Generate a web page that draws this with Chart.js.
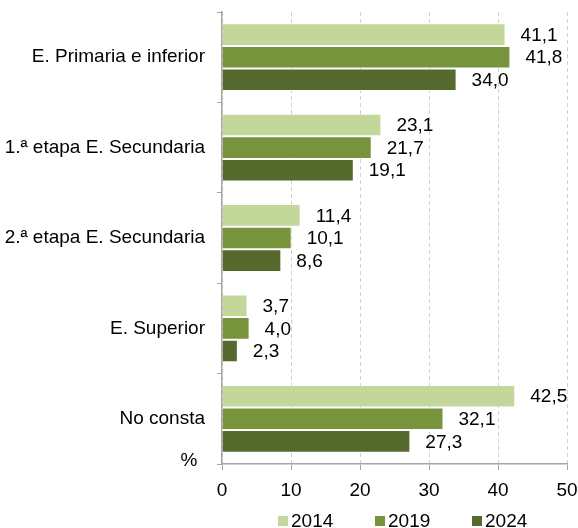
<!DOCTYPE html>
<html>
<head>
<meta charset="utf-8">
<script src="https://cdn.jsdelivr.net/npm/chart.js@4"></script>
<style>
  html, body { margin: 0; padding: 0; background: #fff; overflow: hidden; }
  #wrap { width: 578px; height: 528px; }
</style>
</head>
<body>
<div id="wrap"><canvas id="barChart"></canvas></div>
<script>
const categories = ['E. Primaria e inferior', '1.ª etapa E. Secundaria', '2.ª etapa E. Secundaria', 'E. Superior', 'No consta'];
const years = ['2014', '2019', '2024'];
const values2014 = [41.1, 23.1, 11.4, 3.7, 42.5];
const values2019 = [41.8, 21.7, 10.1, 4.0, 32.1];
const values2024 = [34.0, 19.1, 8.6, 2.3, 27.3];
const xTicks = [0, 10, 20, 30, 40, 50];
const colors = ['#c4d79b', '#77933c', '#566a2e'];

const FONT = '"Liberation Sans", Arial, sans-serif';
Chart.defaults.font.family = FONT;
Chart.defaults.font.size = 19;
Chart.defaults.color = '#000';

// value next to each bar, decimal comma
const valueLabels = {
  id: 'valueLabels',
  afterDatasetsDraw(chart) {
    const ctx = chart.ctx;
    ctx.save();
    ctx.font = '19px ' + FONT;
    ctx.fillStyle = '#000';
    ctx.textAlign = 'left';
    ctx.textBaseline = 'middle';
    chart.data.datasets.forEach((ds, i) => {
      chart.getDatasetMeta(i).data.forEach((bar, j) => {
        ctx.fillText(ds.data[j].toFixed(1).replace('.', ','), bar.x + 15, bar.y + 1);
      });
    });
    ctx.restore();
  }
};

// "%" unit and legend under the axis
const extras = {
  id: 'extras',
  afterDraw(chart) {
    const ctx = chart.ctx;
    const area = chart.chartArea;
    ctx.save();
    ctx.font = '19px ' + FONT;
    ctx.fillStyle = '#000';
    ctx.textAlign = 'center';
    ctx.textBaseline = 'middle';
    ctx.fillText('%', area.left - 33, area.bottom - 3);

    ctx.textAlign = 'left';
    chart.data.datasets.forEach((ds, i) => {
      const x = area.left + 56 + i * 97;
      const y = 521;
      ctx.fillStyle = ds.backgroundColor;
      ctx.fillRect(x, y - 5, 10, 10);
      ctx.fillStyle = '#000';
      ctx.fillText(ds.label, x + 13, y + 1);
    });
    ctx.restore();
  }
};

const barStyle = { borderWidth: 1, borderColor: 'rgba(255,255,255,0.45)' };

new Chart(document.getElementById('barChart').getContext('2d'), {
  type: 'bar',
  data: {
    labels: categories,
    datasets: [
      { label: years[0], data: values2014, backgroundColor: colors[0], ...barStyle },
      { label: years[1], data: values2019, backgroundColor: colors[1], ...barStyle },
      { label: years[2], data: values2024, backgroundColor: colors[2], ...barStyle }
    ]
  },
  options: {
    indexAxis: 'y',
    responsive: true,
    maintainAspectRatio: false,
    animation: false,
    layout: { padding: { top: 12, right: 11, bottom: 24, left: 0 } },
    datasets: { bar: { categoryPercentage: 0.75, barPercentage: 1 } },
    scales: {
      x: {
        min: xTicks[0],
        max: xTicks[xTicks.length - 1],
        afterBuildTicks(scale) { scale.ticks = xTicks.map(v => ({ value: v })); },
        ticks: { padding: 9 },
        grid: { color: '#cfcfcf', tickColor: '#a6a6a6', tickLength: 6, tickBorderDash: [] },
        border: { color: '#a6a6a6', width: 1.5, dash: [4, 3] },
        afterFit(scale) {
          scale.height = 40;
          scale.paddingLeft = 0;
          scale.paddingRight = 0;
        }
      },
      y: {
        ticks: { padding: 12 },
        grid: { offset: true, drawOnChartArea: false, tickLength: 5, tickColor: '#a6a6a6' },
        border: { color: '#a6a6a6', width: 1.5 },
        afterFit(scale) {
          scale.width = 222;
          scale.paddingTop = 0;
          scale.paddingBottom = 0;
        }
      }
    },
    plugins: { legend: { display: false }, tooltip: { enabled: false } }
  },
  plugins: [valueLabels, extras]
});
</script>
</body>
</html>
